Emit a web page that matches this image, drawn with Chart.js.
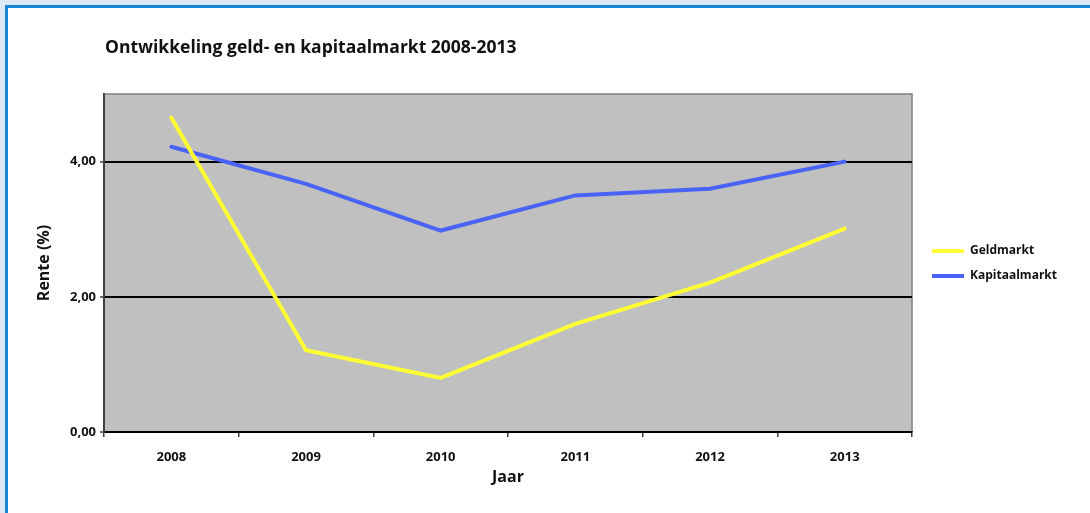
<!DOCTYPE html>
<html><head><meta charset="utf-8">
<script src="https://cdn.jsdelivr.net/npm/chart.js@4"></script>
<style>
html,body{margin:0;padding:0;background:#fff;width:1090px;height:513px;overflow:hidden}
#f1{position:absolute;left:0;top:0;width:1090px;height:513px;box-sizing:border-box;border-top:5px solid #dde9f6;border-left:5px solid #dde9f6}
#f2{position:absolute;left:5px;top:5px;right:0;bottom:0;border-top:3px solid #1787d3;border-left:3px solid #1787d3}
#wrap{position:absolute;left:0;top:0;width:1090px;height:513px}
</style></head><body>
<div id="f1"></div><div id="f2"></div>
<div id="wrap"><canvas id="c" width="1090" height="513"></canvas></div>
<script>
const categories = ['2008', '2009', '2010', '2011', '2012', '2013'];
const geldmarkt = [4.65, 1.21, 0.80, 1.60, 2.21, 3.01];
const kapitaalmarkt = [4.22, 3.67, 2.98, 3.50, 3.60, 4.00];
const yTicks = [0, 2, 4];

const FONT = '"Open Sans", "DejaVu Sans", sans-serif';
const TXT = '#111';

const plotBg = {
  id: 'plotBg',
  afterLayout(chart) {
    chart.titleBlock.left += 105;
    chart.titleBlock.right += 105;
    chart.legend.left += 7;
    chart.legend.right += 7;
    chart.legend.top += 7;
    chart.legend.bottom += 7;
  },
  beforeDraw(chart) {
    const {ctx, chartArea: a} = chart;
    ctx.save();
    ctx.fillStyle = '#c0c0c0';
    ctx.fillRect(a.left, a.top, a.right - a.left, a.bottom - a.top);
    ctx.strokeStyle = '#808080';
    ctx.lineWidth = 1.5;
    ctx.beginPath();
    ctx.moveTo(a.left, a.top);
    ctx.lineTo(a.right, a.top);
    ctx.lineTo(a.right, a.bottom);
    ctx.stroke();
    ctx.restore();
  }
};

new Chart(document.getElementById('c'), {
  type: 'line',
  data: {
    labels: categories,
    datasets: [
      {label: 'Geldmarkt', data: geldmarkt, borderColor: '#ffff33', backgroundColor: '#ffff33',
       borderWidth: 4, pointRadius: 0, tension: 0, borderCapStyle: 'round', borderJoinStyle: 'miter'},
      {label: 'Kapitaalmarkt', data: kapitaalmarkt, borderColor: '#4a63f7', backgroundColor: '#4a63f7',
       borderWidth: 4, pointRadius: 0, tension: 0, borderCapStyle: 'round', borderJoinStyle: 'miter'}
    ]
  },
  options: {
    responsive: false,
    animation: false,
    layout: {padding: {left: 0, top: 0, right: 30, bottom: 0}},
    plugins: {
      tooltip: {enabled: false},
      title: {
        display: true, text: 'Ontwikkeling geld- en kapitaalmarkt 2008-2013', align: 'start',
        color: TXT, font: {family: FONT, size: 17.5, weight: 'bold'},
        padding: {top: 37.5, bottom: 35.5}
      },
      legend: {
        position: 'right', align: 'center',
        labels: {
          boxWidth: 32, boxHeight: 4, padding: 13, color: TXT,
          font: {family: FONT, size: 12, weight: 'bold'},
          generateLabels(chart) {
            const items = Chart.defaults.plugins.legend.labels.generateLabels(chart);
            items.forEach(i => { i.lineWidth = 0; i.fillStyle = i.strokeStyle; });
            return items;
          }
        }
      }
    },
    scales: {
      x: {
        type: 'category', offset: true,
        grid: {offset: true, drawOnChartArea: false, drawTicks: true, tickLength: 5, color: '#404040', lineWidth: 1.5},
        border: {display: true, color: '#000', width: 2},
        ticks: {padding: 12.5, color: TXT, font: {family: FONT, size: 13, weight: 'bold'}, maxRotation: 0},
        title: {display: true, text: 'Jaar', color: TXT, font: {family: FONT, size: 16, weight: 'bold'}, padding: {top: 0, bottom: 26.4}},
        afterFit(scale) { scale.height = 81; }
      },
      y: {
        min: 0, max: 5,
        afterBuildTicks(scale) { scale.ticks = yTicks.map(v => ({value: v})); },
        grid: {color: '#000', lineWidth: 2, tickLength: 4, tickColor: '#404040', tickWidth: 1.5},
        border: {display: true, color: '#404040', width: 2},
        ticks: {padding: 4, color: TXT, font: {family: FONT, size: 13, weight: 'bold'},
          callback: v => v.toFixed(2).replace('.', ',')},
        title: {display: true, text: 'Rente (%)', color: TXT, font: {family: FONT, size: 16, weight: 'bold'}, padding: {top: 34.4, bottom: 0}},
        afterFit(scale) { scale.width = 104; }
      }
    }
  },
  plugins: [plotBg]
});
</script>
</body></html>
